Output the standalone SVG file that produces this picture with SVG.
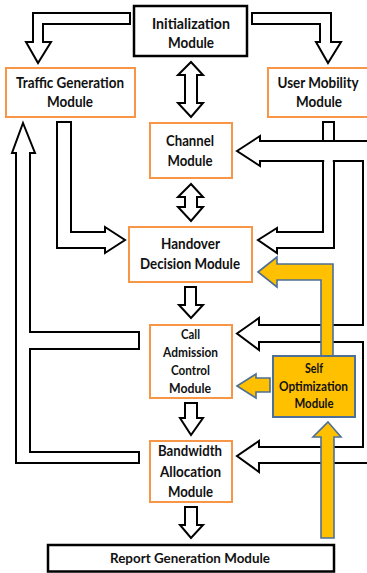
<svg xmlns="http://www.w3.org/2000/svg" width="367" height="573" viewBox="0 0 367 573">
<style>
.bg{fill:#ffffff}
.kb{fill:#ffffff;stroke:#000000;stroke-width:2.5}
.ob{fill:#ffffff;stroke:#F79646;stroke-width:2}
.yb{fill:#FFC000;stroke:#4E6F96;stroke-width:2}
.ar{fill:#ffffff;stroke:#000000;stroke-width:2;stroke-linejoin:miter}
.ya{fill:#FFC000;stroke:#4E6F96;stroke-width:1.6;stroke-linejoin:miter}
.t{font-family:Lato,"Open Sans","Liberation Sans",sans-serif;font-weight:bold;fill:#111111;text-anchor:middle}
.s17{font-size:16px}
.s15{font-size:15px}
.s16{font-size:15.5px}
.s14{font-size:14px}
</style>
<rect class="bg" x="0" y="0" width="367" height="573"/>
<g id="connectors">
  <polygon class="ar" points="130,13 130,24 43,24 43,42 51,42 38,63 26,42 33,42 33,13"/>
  <polygon class="ar" points="252,13 331,13 331,42 341,42 328,63 316,42 320,42 320,24 252,24"/>
  <polygon class="ar" points="191,62 203,75 197,75 197,103 203,103 191,117 178,103 185,103 185,75 178,75"/>
  <polygon class="ar" points="191,184 203,197 197,197 197,207 203,207 191,221 178,207 185,207 185,197 178,197"/>
  <polygon class="ar" points="57,122 71,122 71,232 105,232 105,227 125,240 105,253 105,248 57,248"/>
  <polygon class="ar" points="23,123 35,153 30,153 30,332 139,332 139,349 30,349 30,452 139,452 139,463 16,463 16,153 12,153"/>
  <polygon class="ar" points="323,122 334,122 334,248 277,248 277,253 258,240 277,228 277,232 323,232"/>
  <polygon class="ar" points="237,151 260,136 260,141 380,141 380,463 259,463 259,472 237,456 259,441 259,447 363,447 363,342 259,342 259,350 237,333.5 259,318 259,325 363,325 363,161 260,161 260,166"/>
  <rect x="324.2" y="142.4" width="8.6" height="19.8" fill="#ffffff"/>
  <polygon class="ar" points="185,287 196,287 196,305 203,305 191,318 179,305 185,305"/>
  <polygon class="ar" points="185,403 197,403 197,418 203,418 191,435 180,418 185,418"/>
  <polygon class="ar" points="185,507 197,507 197,525 203,525 191,538 180,525 185,525"/>
  <polygon class="ya" points="258,272 277,257 277,264 333,264 333,356 321,356 321,280 277,280 277,287"/>
  <polygon class="ya" points="237,386 256,374 256,378 270,378 270,392 256,392 256,398"/>
  <polygon class="ya" points="328,422 341,437 334,437 334,538 321,538 321,437 313,437"/>
</g>
<g id="init">
  <rect class="kb" x="134" y="6" width="113" height="50"/>
  <text class="t s17" x="191" y="29" textLength="78" lengthAdjust="spacingAndGlyphs">Initialization</text>
  <text class="t s17" x="191" y="47.5" textLength="46" lengthAdjust="spacingAndGlyphs">Module</text>
</g>
<g id="traffic">
  <rect class="ob" x="6" y="68" width="129" height="49"/>
  <text class="t s17" x="70" y="88" textLength="108" lengthAdjust="spacingAndGlyphs">Traffic Generation</text>
  <text class="t s17" x="70" y="107" textLength="46" lengthAdjust="spacingAndGlyphs">Module</text>
</g>
<g id="mobility">
  <rect class="ob" x="268" y="68" width="100" height="49"/>
  <text class="t s15" x="318" y="88" textLength="81" lengthAdjust="spacingAndGlyphs">User Mobility</text>
  <text class="t s17" x="319" y="107" textLength="46" lengthAdjust="spacingAndGlyphs">Module</text>
</g>
<g id="channel">
  <rect class="ob" x="150" y="123" width="82" height="55"/>
  <text class="t s16" x="190" y="146" textLength="48" lengthAdjust="spacingAndGlyphs">Channel</text>
  <text class="t s16" x="190" y="166" textLength="45" lengthAdjust="spacingAndGlyphs">Module</text>
</g>
<g id="handover">
  <rect class="ob" x="129" y="227" width="123" height="55"/>
  <text class="t s16" x="190.5" y="249" textLength="59" lengthAdjust="spacingAndGlyphs">Handover</text>
  <text class="t s16" x="190" y="269" textLength="100" lengthAdjust="spacingAndGlyphs">Decision Module</text>
</g>
<g id="cac">
  <rect class="ob" x="150" y="325" width="82" height="73"/>
  <text class="t s14" x="190.5" y="339" textLength="19" lengthAdjust="spacingAndGlyphs">Call</text>
  <text class="t s14" x="190.5" y="357" textLength="55" lengthAdjust="spacingAndGlyphs">Admission</text>
  <text class="t s14" x="190.5" y="375" textLength="39" lengthAdjust="spacingAndGlyphs">Control</text>
  <text class="t s14" x="190" y="393" textLength="42" lengthAdjust="spacingAndGlyphs">Module</text>
</g>
<g id="selfopt">
  <rect class="yb" x="273" y="356" width="82" height="61"/>
  <text class="t s14" x="314" y="373" textLength="18" lengthAdjust="spacingAndGlyphs">Self</text>
  <text class="t s14" x="313.5" y="391" textLength="69" lengthAdjust="spacingAndGlyphs">Optimization</text>
  <text class="t s14" x="314" y="408" textLength="39" lengthAdjust="spacingAndGlyphs">Module</text>
</g>
<g id="bandwidth">
  <rect class="ob" x="150" y="441" width="82" height="61"/>
  <text class="t s16" x="190" y="456" textLength="64" lengthAdjust="spacingAndGlyphs">Bandwidth</text>
  <text class="t s16" x="190.5" y="476.5" textLength="61" lengthAdjust="spacingAndGlyphs">Allocation</text>
  <text class="t s16" x="190.5" y="497" textLength="45" lengthAdjust="spacingAndGlyphs">Module</text>
</g>
<g id="report">
  <rect class="kb" x="48" y="545" width="286" height="26.5"/>
  <text class="t s14" x="190" y="563" textLength="160" lengthAdjust="spacingAndGlyphs">Report Generation Module</text>
</g>
</svg>
